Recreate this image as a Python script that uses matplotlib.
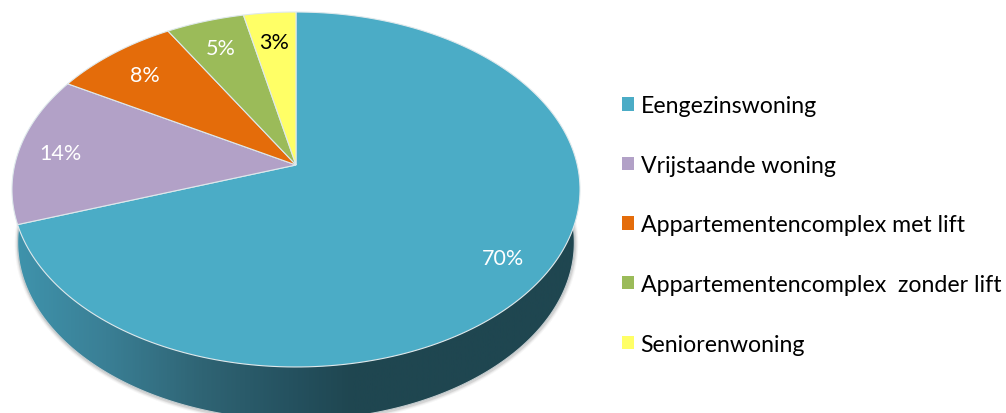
import matplotlib
matplotlib.use('Agg')
import matplotlib.pyplot as plt
from matplotlib.colors import LinearSegmentedColormap
from matplotlib.patches import Patch, Polygon
import numpy as np

categories = ['Eengezinswoning', 'Vrijstaande woning', 'Appartementencomplex met lift',
              'Appartementencomplex  zonder lift', 'Seniorenwoning']
values = [69.7, 13.6, 8.2, 5.1, 3.4]
colors = ['#4bacc6', '#b2a1c7', '#e46c0a', '#9bbb59', '#ffff66']
label_colors = ['white', 'white', 'white', 'white', 'black']
label_radius = [0.845, 0.85, 0.81, 0.805, 0.80]

plt.rcParams['font.family'] = ['Lato', 'DejaVu Sans']

# pie geometry in pixels, the tilt makes the front half bigger
CX, CY = 296, 166
A, B, K = 281.3, 174.1, 0.138
DEPTH, WALL_SCALE = 53, 0.98


def project(t, r=1.0):
    # t is clockwise from 12 o'clock
    x = r * np.sin(t)
    y = r * np.cos(t)
    w = 1 + K * y
    return CX + A * x / w, CY - B * y / w


fig = plt.figure(figsize=(10.06, 4.14), dpi=100)
ax = fig.add_axes([0, 0, 1, 1])

circle = np.linspace(0, 2 * np.pi, 500)
top_x, top_y = project(circle)
wall_xy = np.column_stack([CX + (top_x - CX) * WALL_SCALE, top_y + DEPTH])

# soft shadow round the wall
for lw, alpha in [(5, 0.05), (3.5, 0.08), (2, 0.14)]:
    ax.plot(wall_xy[:, 0] + 0.5, wall_xy[:, 1] + 1, color='#555555', lw=lw, alpha=alpha, zorder=1)

# wall is a horizontal gradient clipped to the lower ellipse
wall_cmap = LinearSegmentedColormap.from_list('wall', [(0, '#3f93ac'), (0.16, '#3a7f95'), (0.33, '#2f6474'),
                                                       (0.5, '#24505e'), (0.6, '#1f4650'), (1, '#1f4650')])
grad = np.linspace(0, 1, 600).reshape(1, -1)
im = ax.imshow(grad, cmap=wall_cmap, extent=(15, 580, 414, 0), aspect='auto', zorder=2)
wall = Polygon(wall_xy, closed=True, transform=ax.transData, fc='none', ec='#c4cccf', lw=0.8, zorder=3)
ax.add_patch(wall)
im.set_clip_path(wall)

# slices
start = 0.0
total = sum(values)
for i, v in enumerate(values):
    end = start + 2 * np.pi * v / total
    t = np.linspace(start, end, 200)
    x, y = project(t)
    px = np.r_[CX, x]
    py = np.r_[CY, y]
    ax.fill(px, py, fc=colors[i], ec='#dfe9ec', lw=0.8, zorder=4, label=categories[i])
    lx, ly = project((start + end) / 2, label_radius[i])
    ax.text(lx - 0.5, ly + 1.5, '%.0f%%' % v, color=label_colors[i], ha='center', va='center', fontsize=15.5, zorder=5)
    start = end

handles = [Patch(fc=c, ec='none') for c in colors]
ax.legend(handles, categories, loc='upper left', bbox_to_anchor=(0.618, 0.768), frameon=False, fontsize=16.65,
          handlelength=0.52, handleheight=0.52, handletextpad=0.3, labelspacing=1.67, borderpad=0, borderaxespad=0)

ax.set_xlim(0, 1006)
ax.set_ylim(414, 0)
ax.axis('off')
fig.savefig('out.png', dpi=100)
